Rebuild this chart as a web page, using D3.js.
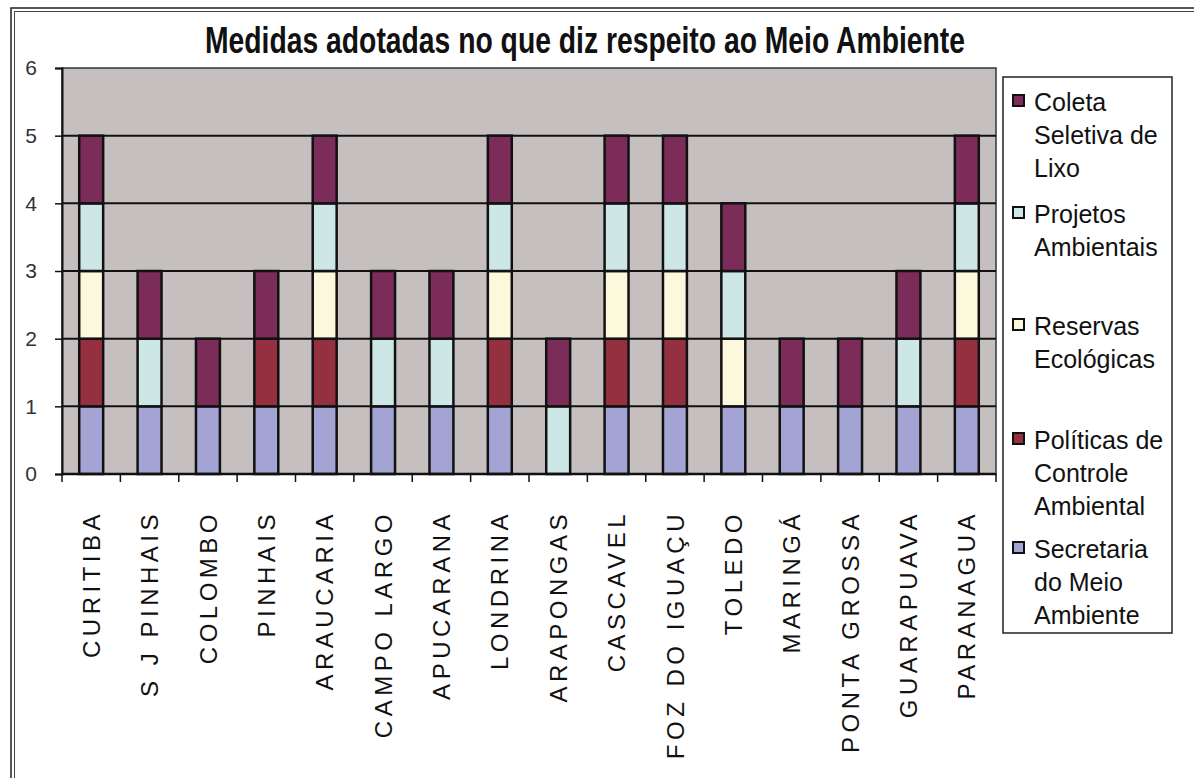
<!DOCTYPE html>
<html><head><meta charset="utf-8">
<script src="https://cdn.jsdelivr.net/npm/d3@7"></script>
<style>body{margin:0;background:#fff;}svg{display:block;}</style>
</head><body>
<svg id="c" width="1194" height="778"></svg>
<script>
const categories = ["CURITIBA","S J PINHAIS","COLOMBO","PINHAIS","ARAUCARIA","CAMPO LARGO","APUCARANA","LONDRINA","ARAPONGAS","CASCAVEL","FOZ DO IGUAÇU","TOLEDO","MARINGÁ","PONTA GROSSA","GUARAPUAVA","PARANAGUA"];
const secretaria = [1,1,1,1,1,1,1,1,0,1,1,1,1,1,1,1];
const politicas  = [1,0,0,1,1,0,0,1,0,1,1,0,0,0,0,1];
const reservas   = [1,0,0,0,1,0,0,1,0,1,1,1,0,0,0,1];
const projetos   = [1,1,0,0,1,1,1,1,1,1,1,1,0,0,1,1];
const coleta     = [1,1,1,1,1,1,1,1,1,1,1,1,1,1,1,1];
const seriesNames = ["Secretaria do Meio Ambiente","Políticas de Controle Ambiental","Reservas Ecológicas","Projetos Ambientais","Coleta Seletiva de Lixo"];
const yTicks = [0,1,2,3,4,5,6];
const title = "Medidas adotadas no que diz respeito ao Meio Ambiente";

const colors = ["#a4a4d4","#953040","#fbf8dc","#cde6e6","#7c2c58"];
const seriesValues = [secretaria, politicas, reservas, projetos, coleta];
const keys = ["s0","s1","s2","s3","s4"];
const table = categories.map((c,i)=>{const o={cat:c}; keys.forEach((k,j)=>o[k]=seriesValues[j][i]); return o;});
const stacked = d3.stack().keys(keys)(table);

const svg = d3.select("#c");
const L=62,R=996,T=68,B=474;
const x = d3.scaleBand().domain(categories).range([L,R]).paddingInner(0.59).paddingOuter(0.295);
const y = d3.scaleLinear().domain([0,6]).range([B,T]);

// outer frame (double)
svg.append("rect").attr("x",11).attr("y",8).attr("width",1250).attr("height",850).attr("fill","none").attr("stroke","#222").attr("stroke-width",1.5);
svg.append("rect").attr("x",14.5).attr("y",11.5).attr("width",1250).attr("height",850).attr("fill","none").attr("stroke","#444").attr("stroke-width",1);

// title
svg.append("text").attr("x",585).attr("y",53).attr("text-anchor","middle")
  .attr("font-family","'Liberation Sans Narrow','Arial Narrow','Liberation Sans',Arial,sans-serif")
  .attr("font-weight","bold").attr("font-size",36).attr("fill","#111")
  .attr("textLength",760).attr("lengthAdjust","spacingAndGlyphs").text(title);

// plot bg
svg.append("rect").attr("x",L).attr("y",T).attr("width",R-L).attr("height",B-T).attr("fill","#c6bfbf").attr("stroke","#333").attr("stroke-width",1.5);

// gridlines
svg.append("g").selectAll("line").data(yTicks.filter(d=>d>0&&d<6)).join("line")
  .attr("x1",L).attr("x2",R).attr("y1",d=>y(d)).attr("y2",d=>y(d)).attr("stroke","#111").attr("stroke-width",2);

// bars
svg.append("g").selectAll("g").data(stacked).join("g").attr("fill",(d,i)=>colors[i])
  .selectAll("rect").data(d=>d.filter(s=>s[1]-s[0]>0)).join("rect")
  .attr("x",d=>x(d.data.cat)).attr("width",x.bandwidth())
  .attr("y",d=>y(d[1])).attr("height",d=>y(d[0])-y(d[1]))
  .attr("stroke","#111").attr("stroke-width",2.5);

// y axis
const ya = svg.append("g").attr("transform",`translate(${L},0)`)
  .call(d3.axisLeft(y).tickValues(yTicks).tickFormat(d3.format("d")).tickSize(7).tickPadding(18));
ya.select(".domain").attr("stroke","#111").attr("stroke-width",2);
ya.selectAll(".tick line").attr("stroke","#111").attr("stroke-width",1.5);
ya.selectAll("text").attr("font-family","'Liberation Sans',Arial,sans-serif").attr("font-size",21).attr("fill","#333");

// x axis
const xTickPos = d3.range(categories.length+1).map(i=>L+i*x.step());
svg.append("line").attr("x1",L).attr("x2",R).attr("y1",B).attr("y2",B).attr("stroke","#111").attr("stroke-width",2.5);
svg.append("g").selectAll("line").data(xTickPos).join("line")
  .attr("x1",d=>d).attr("x2",d=>d).attr("y1",B).attr("y2",B+8).attr("stroke","#111").attr("stroke-width",1.5);
svg.append("g").selectAll("text").data(categories).join("text")
  .attr("transform",d=>`translate(${x(d)+x.bandwidth()/2},510) rotate(-90)`)
  .attr("text-anchor","end").attr("dy","0.36em")
  .attr("font-family","'Liberation Sans',Arial,sans-serif").attr("font-size",24)
  .attr("letter-spacing","4.5px").attr("fill","#111").text(d=>d);

// legend
svg.append("rect").attr("x",1003).attr("y",77).attr("width",169).attr("height",556).attr("fill","#fff").attr("stroke","#222").attr("stroke-width",1.5);
const legendItems = [
  {i:4, lines:["Coleta","Seletiva de","Lixo"], y:102},
  {i:3, lines:["Projetos","Ambientais"], y:214},
  {i:2, lines:["Reservas","Ecológicas"], y:326},
  {i:1, lines:["Políticas de","Controle","Ambiental"], y:440},
  {i:0, lines:["Secretaria","do Meio","Ambiente"], y:549}
];
const lg = svg.append("g").selectAll("g").data(legendItems).join("g");
lg.append("rect").attr("x",1013).attr("y",d=>d.y-7).attr("width",11).attr("height",11)
  .attr("fill",d=>colors[d.i]).attr("stroke","#111").attr("stroke-width",2);
lg.each(function(d){
  const t = d3.select(this).append("text").attr("font-family","'Liberation Sans',Arial,sans-serif")
    .attr("font-size",25).attr("fill","#111");
  d.lines.forEach((ln,k)=>t.append("tspan").attr("x",1034).attr("y",d.y+9+k*33).text(ln));
});
</script>
</body></html>
